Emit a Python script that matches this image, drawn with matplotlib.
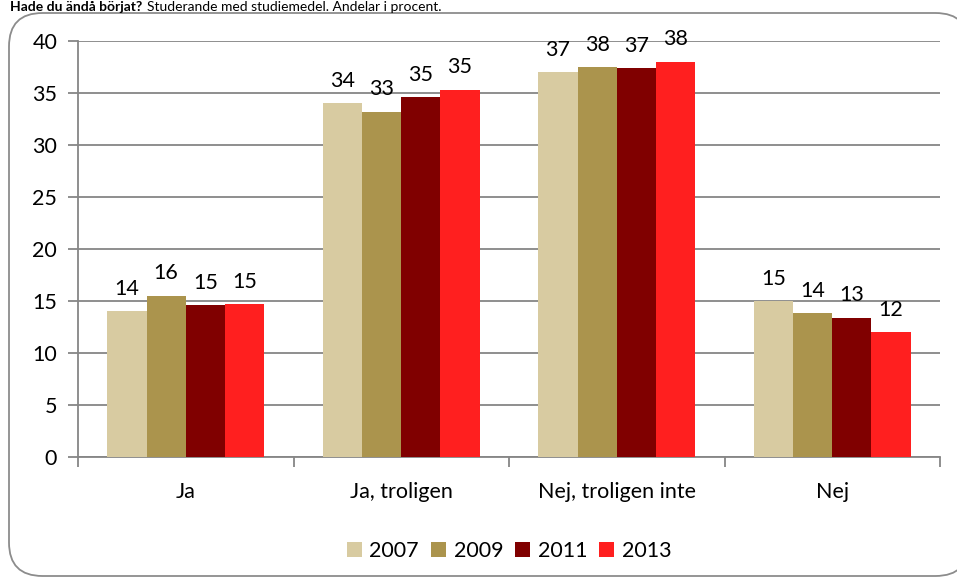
import numpy as np
import matplotlib.pyplot as plt
from matplotlib.patches import FancyBboxPatch

plt.rcParams['font.family'] = ['Lato', 'DejaVu Sans']

# data
kategorier = ['Ja', 'Ja, troligen', 'Nej, troligen inte', 'Nej']
ar = ['2007', '2009', '2011', '2013']
v2007 = [14.0, 34.0, 37.0, 15.0]
v2009 = [15.5, 33.2, 37.5, 13.8]
v2011 = [14.6, 34.6, 37.4, 13.4]
v2013 = [14.7, 35.3, 38.0, 12.0]
etiketter = [['14', '34', '37', '15'],
             ['16', '33', '38', '14'],
             ['15', '35', '37', '13'],
             ['15', '35', '38', '12']]
farger = ['#D8CBA1', '#AB944D', '#800000', '#FF1F1F']

W, H = 957, 581
fig = plt.figure(figsize=(W / 100, H / 100), dpi=100)

# rundad ram runt diagrammet (bakom axlarna)
ram = FancyBboxPatch((9 / W, 5 / H), 960 / W, 563 / H,
                     boxstyle='round,pad=0,rounding_size=0.035',
                     transform=fig.transFigure, facecolor='white',
                     edgecolor='#8C8C8C', linewidth=1.3,
                     mutation_aspect=W / H, zorder=-5)
fig.patches.append(ram)

# titel
t1 = fig.text(10 / W, 1 - 1 / H, 'Hade du ändå börjat?', fontsize=10, fontweight='bold',
              va='top', ha='left')
fig.canvas.draw()
bb = t1.get_window_extent(fig.canvas.get_renderer())
fig.text((bb.x1 + 5) / W, 1 - 1 / H, 'Studerande med studiemedel. Andelar i procent.',
         fontsize=10, va='top', ha='left')

ax = fig.add_axes([78 / W, 1 - 457 / H, 862 / W, 416 / H])
ax.set_facecolor('none')
ax.set_zorder(2)

x = np.arange(len(kategorier))
bredd = 0.182
serier = [v2007, v2009, v2011, v2013]
for i, (vals, farg) in enumerate(zip(serier, farger)):
    pos = x + (i - 1.5) * bredd
    ax.bar(pos, vals, bredd, color=farg, label=ar[i], zorder=3)
    for p, v, t in zip(pos, vals, etiketter[i]):
        ax.text(p, v + 1.2, t, ha='center', va='bottom', fontsize=15.5)

ax.set_xlim(-0.5, len(kategorier) - 0.5)
ax.set_ylim(0, 40)
ax.set_yticks(range(0, 41, 5))
ax.yaxis.grid(True, color='#868686', linewidth=1.3, zorder=0)
ax.set_axisbelow(True)

ax.set_xticks(np.arange(-0.5, len(kategorier), 1))
ax.set_xticklabels([])
ax.set_xticks(x, minor=True)
ax.set_xticklabels(kategorier, minor=True, fontsize=15.5)
ax.tick_params(axis='x', which='minor', length=0, pad=18)
ax.tick_params(axis='x', which='major', length=7, width=1.3, color='#868686')
ax.tick_params(axis='y', length=7, width=1.3, color='#868686', labelsize=15.5, pad=8)

for s in ['top', 'right']:
    ax.spines[s].set_visible(False)
for s in ['left', 'bottom']:
    ax.spines[s].set_color('#868686')
    ax.spines[s].set_linewidth(1.3)

ax.legend(loc='upper center', bbox_to_anchor=(0.5, -0.155), ncol=4, frameon=False,
          fontsize=15.5, handlelength=0.7, handleheight=0.7, handletextpad=0.35,
          columnspacing=0.55)

fig.savefig('out.png', dpi=100)
